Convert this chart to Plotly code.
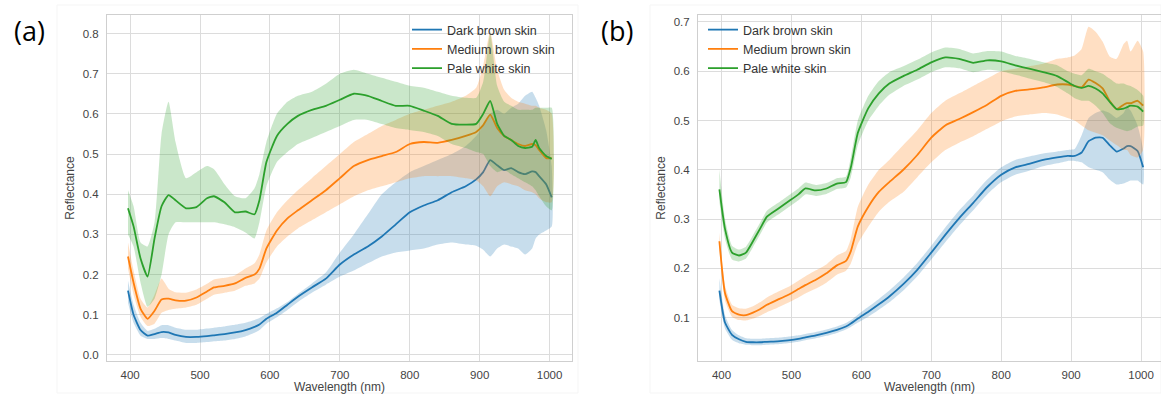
import plotly.graph_objects as go

# ---------------- data ----------------
wavelength = [397, 405, 415, 425, 435, 445, 455, 465, 480, 495, 510, 520, 535, 550, 565, 578,
              585, 595, 610, 625, 640, 660, 680, 700, 720, 740, 760, 780, 800, 820, 840, 860,
              880, 895, 905, 915, 925, 935, 945, 955, 965, 975, 980, 985, 995, 1003]

series_names = ["Dark brown skin", "Medium brown skin", "Pale white skin"]

# ---- panel (a) ----
a_dark_mean = [0.160, 0.100, 0.062, 0.048, 0.052, 0.057, 0.056, 0.050, 0.045, 0.045, 0.047, 0.049, 0.052, 0.056, 0.062, 0.070,
               0.076, 0.090, 0.105, 0.125, 0.145, 0.168, 0.190, 0.225, 0.250, 0.270, 0.295, 0.325, 0.355, 0.372, 0.385, 0.405,
               0.420, 0.437, 0.455, 0.485, 0.472, 0.460, 0.465, 0.455, 0.450, 0.457, 0.455, 0.445, 0.425, 0.392]
a_dark_lo = [0.130, 0.080, 0.048, 0.040, 0.040, 0.042, 0.040, 0.036, 0.030, 0.030, 0.032, 0.034, 0.036, 0.040, 0.046, 0.055,
             0.062, 0.078, 0.094, 0.112, 0.132, 0.155, 0.175, 0.195, 0.210, 0.228, 0.245, 0.255, 0.260, 0.265, 0.275, 0.280,
             0.275, 0.272, 0.262, 0.245, 0.265, 0.275, 0.270, 0.265, 0.250, 0.265, 0.290, 0.300, 0.310, 0.320]
a_dark_hi = [0.185, 0.125, 0.080, 0.060, 0.065, 0.074, 0.074, 0.068, 0.063, 0.063, 0.066, 0.068, 0.071, 0.075, 0.080, 0.087,
             0.092, 0.102, 0.116, 0.132, 0.152, 0.178, 0.205, 0.255, 0.300, 0.350, 0.400, 0.430, 0.455, 0.470, 0.485, 0.500,
             0.520, 0.545, 0.570, 0.600, 0.610, 0.600, 0.615, 0.625, 0.645, 0.655, 0.640, 0.620, 0.560, 0.470]

a_med_mean = [0.245, 0.180, 0.115, 0.090, 0.110, 0.138, 0.140, 0.136, 0.135, 0.143, 0.158, 0.168, 0.172, 0.178, 0.192, 0.200,
              0.215, 0.265, 0.310, 0.340, 0.360, 0.385, 0.410, 0.440, 0.470, 0.485, 0.495, 0.505, 0.525, 0.530, 0.528, 0.535,
              0.545, 0.555, 0.572, 0.598, 0.565, 0.545, 0.535, 0.525, 0.520, 0.525, 0.522, 0.510, 0.490, 0.490]
a_med_lo = [0.215, 0.150, 0.095, 0.072, 0.078, 0.105, 0.112, 0.115, 0.118, 0.125, 0.140, 0.150, 0.155, 0.160, 0.172, 0.178,
            0.190, 0.230, 0.270, 0.295, 0.315, 0.335, 0.355, 0.375, 0.395, 0.410, 0.420, 0.430, 0.440, 0.445, 0.445, 0.445,
            0.440, 0.435, 0.420, 0.395, 0.420, 0.430, 0.425, 0.420, 0.410, 0.405, 0.400, 0.390, 0.380, 0.380]
a_med_hi = [0.280, 0.210, 0.140, 0.118, 0.150, 0.190, 0.165, 0.156, 0.155, 0.163, 0.177, 0.188, 0.192, 0.198, 0.215, 0.228,
            0.250, 0.310, 0.355, 0.385, 0.410, 0.440, 0.470, 0.500, 0.530, 0.550, 0.570, 0.585, 0.600, 0.610, 0.620, 0.630,
            0.645, 0.665, 0.720, 0.805, 0.710, 0.660, 0.640, 0.630, 0.625, 0.620, 0.620, 0.615, 0.610, 0.600]

a_pale_mean = [0.365, 0.320, 0.240, 0.195, 0.290, 0.370, 0.398, 0.385, 0.365, 0.368, 0.390, 0.395, 0.380, 0.355, 0.357, 0.350,
               0.385, 0.480, 0.545, 0.575, 0.595, 0.610, 0.620, 0.635, 0.650, 0.645, 0.632, 0.620, 0.620, 0.608, 0.595, 0.575,
               0.573, 0.575, 0.600, 0.632, 0.575, 0.545, 0.535, 0.520, 0.515, 0.518, 0.535, 0.515, 0.495, 0.488]
a_pale_lo = [0.300, 0.270, 0.180, 0.120, 0.140, 0.200, 0.300, 0.330, 0.330, 0.330, 0.330, 0.330, 0.325, 0.318, 0.305, 0.290,
             0.330, 0.420, 0.480, 0.505, 0.525, 0.540, 0.555, 0.570, 0.585, 0.585, 0.575, 0.565, 0.560, 0.555, 0.545, 0.525,
             0.515, 0.505, 0.500, 0.470, 0.455, 0.460, 0.450, 0.440, 0.430, 0.420, 0.410, 0.395, 0.370, 0.360]
a_pale_hi = [0.410, 0.370, 0.280, 0.270, 0.330, 0.550, 0.630, 0.530, 0.440, 0.455, 0.470, 0.462, 0.425, 0.395, 0.390, 0.415,
             0.450, 0.530, 0.600, 0.630, 0.645, 0.655, 0.675, 0.700, 0.710, 0.700, 0.690, 0.680, 0.670, 0.665, 0.655, 0.645,
             0.640, 0.640, 0.680, 0.800, 0.670, 0.630, 0.620, 0.610, 0.610, 0.610, 0.615, 0.615, 0.615, 0.615]

# ---- panel (b) ----
b_dark_mean = [0.155, 0.090, 0.065, 0.056, 0.051, 0.050, 0.050, 0.051, 0.052, 0.054, 0.057, 0.060, 0.064, 0.069, 0.075, 0.082,
               0.088, 0.098, 0.112, 0.127, 0.143, 0.168, 0.197, 0.232, 0.268, 0.302, 0.333, 0.365, 0.390, 0.405, 0.412, 0.420,
               0.425, 0.428, 0.428, 0.435, 0.458, 0.465, 0.465, 0.450, 0.437, 0.443, 0.448, 0.448, 0.438, 0.405]
b_dark_lo = [0.135, 0.078, 0.055, 0.048, 0.045, 0.044, 0.044, 0.045, 0.046, 0.048, 0.051, 0.054, 0.058, 0.063, 0.069, 0.076,
             0.081, 0.090, 0.102, 0.116, 0.131, 0.155, 0.184, 0.218, 0.253, 0.287, 0.318, 0.350, 0.375, 0.390, 0.398, 0.407,
             0.413, 0.418, 0.418, 0.415, 0.405, 0.400, 0.395, 0.380, 0.370, 0.372, 0.375, 0.378, 0.378, 0.370]
b_dark_hi = [0.180, 0.105, 0.075, 0.064, 0.058, 0.057, 0.057, 0.058, 0.059, 0.061, 0.064, 0.067, 0.071, 0.076, 0.082, 0.089,
             0.095, 0.106, 0.122, 0.138, 0.155, 0.181, 0.211, 0.246, 0.283, 0.318, 0.348, 0.380, 0.405, 0.420, 0.427, 0.433,
             0.437, 0.440, 0.442, 0.470, 0.505, 0.515, 0.520, 0.515, 0.505, 0.515, 0.528, 0.520, 0.490, 0.440]

b_med_mean = [0.255, 0.150, 0.113, 0.106, 0.105, 0.110, 0.117, 0.126, 0.136, 0.146, 0.158, 0.166, 0.177, 0.190, 0.206, 0.215,
              0.235, 0.285, 0.325, 0.355, 0.375, 0.400, 0.430, 0.465, 0.490, 0.503, 0.517, 0.532, 0.550, 0.560, 0.563, 0.567,
              0.573, 0.573, 0.570, 0.567, 0.583, 0.576, 0.565, 0.540, 0.523, 0.532, 0.535, 0.535, 0.540, 0.530]
b_med_lo = [0.238, 0.135, 0.102, 0.095, 0.094, 0.098, 0.104, 0.111, 0.120, 0.130, 0.141, 0.149, 0.159, 0.171, 0.187, 0.195,
            0.210, 0.250, 0.285, 0.315, 0.335, 0.355, 0.385, 0.415, 0.440, 0.455, 0.468, 0.483, 0.498, 0.508, 0.512, 0.515,
            0.512, 0.505, 0.500, 0.490, 0.480, 0.475, 0.470, 0.460, 0.450, 0.440, 0.440, 0.430, 0.425, 0.440]
b_med_hi = [0.272, 0.165, 0.126, 0.119, 0.118, 0.123, 0.131, 0.141, 0.152, 0.162, 0.175, 0.184, 0.196, 0.208, 0.226, 0.235,
            0.260, 0.325, 0.370, 0.400, 0.420, 0.450, 0.480, 0.515, 0.540, 0.555, 0.570, 0.585, 0.600, 0.605, 0.610, 0.615,
            0.625, 0.628, 0.632, 0.645, 0.690, 0.680, 0.660, 0.630, 0.625, 0.655, 0.662, 0.640, 0.662, 0.640]

b_pale_mean = [0.360, 0.280, 0.232, 0.226, 0.232, 0.255, 0.280, 0.305, 0.320, 0.335, 0.350, 0.362, 0.358, 0.362, 0.372, 0.375,
               0.405, 0.475, 0.525, 0.555, 0.575, 0.590, 0.603, 0.618, 0.628, 0.625, 0.617, 0.622, 0.620, 0.612, 0.605, 0.598,
               0.590, 0.578, 0.570, 0.566, 0.570, 0.565, 0.555, 0.538, 0.523, 0.524, 0.527, 0.530, 0.528, 0.518]
b_pale_lo = [0.335, 0.260, 0.218, 0.214, 0.220, 0.243, 0.268, 0.293, 0.308, 0.323, 0.338, 0.350, 0.347, 0.351, 0.361, 0.364,
             0.385, 0.450, 0.500, 0.530, 0.552, 0.570, 0.583, 0.598, 0.608, 0.606, 0.598, 0.603, 0.600, 0.593, 0.585, 0.578,
             0.568, 0.555, 0.545, 0.540, 0.540, 0.530, 0.515, 0.495, 0.485, 0.480, 0.478, 0.480, 0.488, 0.490]
b_pale_hi = [0.400, 0.300, 0.246, 0.238, 0.244, 0.267, 0.292, 0.317, 0.332, 0.347, 0.362, 0.374, 0.369, 0.373, 0.383, 0.386,
             0.425, 0.500, 0.550, 0.580, 0.598, 0.610, 0.623, 0.638, 0.648, 0.645, 0.636, 0.641, 0.640, 0.631, 0.625, 0.618,
             0.612, 0.600, 0.595, 0.592, 0.605, 0.600, 0.595, 0.585, 0.575, 0.575, 0.572, 0.570, 0.562, 0.550]

x_ticks = [400, 500, 600, 700, 800, 900, 1000]
a_y_ticks = [0.0, 0.1, 0.2, 0.3, 0.4, 0.5, 0.6, 0.7, 0.8]
b_y_ticks = [0.1, 0.2, 0.3, 0.4, 0.5, 0.6, 0.7]

# ---------------- style ----------------
line_colors = ["#1f77b4", "#ff7f0e", "#2ca02c"]
band_colors = ["rgba(31,119,180,0.25)", "rgba(255,127,14,0.25)", "rgba(44,160,44,0.25)"]
FONT = "Liberation Sans, Arial, sans-serif"
W, H = 1161, 394

fig = go.Figure()

panels = [
    ("x", "y", "legend", [(a_dark_mean, a_dark_lo, a_dark_hi), (a_med_mean, a_med_lo, a_med_hi), (a_pale_mean, a_pale_lo, a_pale_hi)]),
    ("x2", "y2", "legend2", [(b_dark_mean, b_dark_lo, b_dark_hi), (b_med_mean, b_med_lo, b_med_hi), (b_pale_mean, b_pale_lo, b_pale_hi)]),
]

for xa, ya, leg, series in panels:
    for i, (mean, lo, hi) in enumerate(series):
        fig.add_trace(go.Scatter(
            x=wavelength + wavelength[::-1], y=hi + lo[::-1],
            fill="toself", fillcolor=band_colors[i],
            line=dict(width=0, shape="spline", smoothing=0.5),
            mode="lines", hoverinfo="skip", showlegend=False, xaxis=xa, yaxis=ya))
        fig.add_trace(go.Scatter(
            x=wavelength, y=mean, mode="lines", name=series_names[i],
            line=dict(color=line_colors[i], width=1.8, shape="spline", smoothing=0.5),
            xaxis=xa, yaxis=ya, legend=leg))

def px_x(v):
    return v / W

def px_y(v):
    return 1 - v / H

grid_col = "#dcdcdc"
frame_col = "#cfcfcf"
tick_font = dict(family=FONT, size=11.5, color="#444444")
title_font = dict(family=FONT, size=12, color="#444444")
legend_font = dict(family=FONT, size=12.5, color="#333333")

common_x = dict(showgrid=True, gridcolor=grid_col, gridwidth=1, zeroline=False,
                showline=True, linecolor=frame_col, linewidth=1, mirror=True,
                tickvals=x_ticks, tickfont=tick_font, ticks="", ticklabelstandoff=3,
                title=dict(text="Wavelength (nm)", font=title_font, standoff=6))
common_y = dict(showgrid=True, gridcolor=grid_col, gridwidth=1, zeroline=False,
                showline=True, linecolor=frame_col, linewidth=1, mirror=True,
                tickfont=tick_font, tickformat=".1f", ticks="", ticklabelstandoff=5,
                title=dict(text="Reflectance", font=title_font, standoff=5))

fig.update_layout(
    width=W, height=H,
    margin=dict(l=0, r=0, t=0, b=0),
    paper_bgcolor="white", plot_bgcolor="white",
    xaxis=dict(domain=[px_x(107), px_x(572)], range=[367, 1032], anchor="y", **common_x),
    yaxis=dict(domain=[px_y(361), px_y(15)], range=[-0.015, 0.846], anchor="x", tickvals=a_y_ticks, **common_y),
    xaxis2=dict(domain=[px_x(698), 1.0], range=[366.4, 1028.5], anchor="y2", **common_x),
    yaxis2=dict(domain=[px_y(361), px_y(15)], range=[0.012, 0.714], anchor="x2", tickvals=b_y_ticks, **common_y),
    legend=dict(x=px_x(407), y=px_y(15), xanchor="left", yanchor="top",
                bgcolor="rgba(0,0,0,0)", font=legend_font, tracegroupgap=0, itemwidth=30),
    legend2=dict(x=px_x(703), y=px_y(15), xanchor="left", yanchor="top",
                 bgcolor="rgba(0,0,0,0)", font=legend_font, tracegroupgap=0, itemwidth=30),
    annotations=[
        dict(text="(a)", x=px_x(29), y=px_y(31), xref="paper", yref="paper", showarrow=False,
             xanchor="center", yanchor="middle",
             font=dict(family="Open Sans, sans-serif", size=27, color="black")),
        dict(text="(b)", x=px_x(617), y=px_y(31), xref="paper", yref="paper", showarrow=False,
             xanchor="center", yanchor="middle",
             font=dict(family="Open Sans, sans-serif", size=27, color="black")),
    ],
    shapes=[
        dict(type="rect", xref="paper", yref="paper", x0=px_x(57), x1=px_x(578), y0=px_y(393), y1=px_y(5),
             line=dict(color="#f5f5f5", width=1), layer="below"),
        dict(type="rect", xref="paper", yref="paper", x0=px_x(650), x1=1.0, y0=px_y(393), y1=px_y(5),
             line=dict(color="#f5f5f5", width=1), layer="below"),
    ],
)

fig.write_html("out.html")
